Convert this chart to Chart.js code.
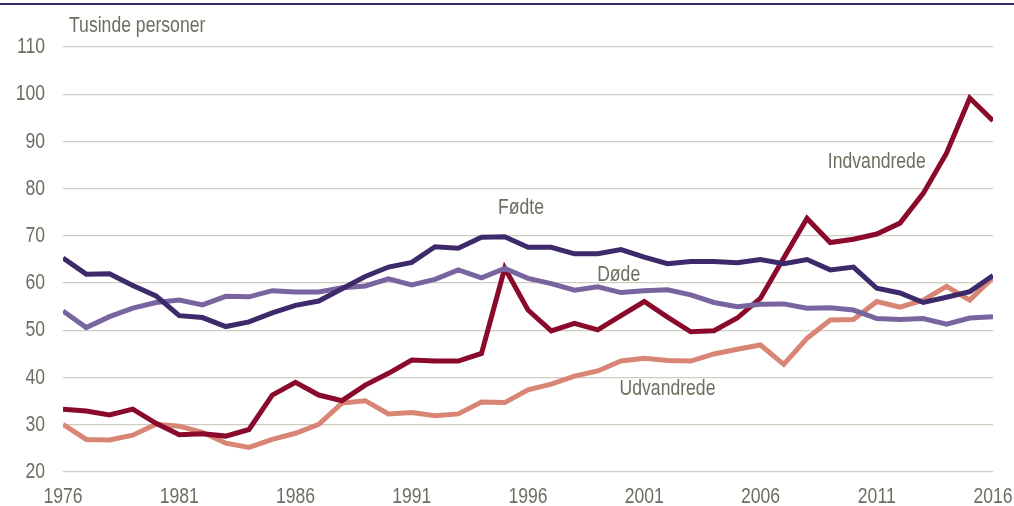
<!DOCTYPE html>
<html>
<head>
<meta charset="utf-8">
<script src="https://cdn.jsdelivr.net/npm/chart.js@4.4.1/dist/chart.umd.min.js"></script>
<style>
  body { margin: 0; background: #fff; }
  #wrap { position: relative; width: 1014px; height: 506px; }
  #topline { position: absolute; left: 0; top: 3px; width: 1014px; height: 2px; background: #3d2a6b; }
</style>
</head>
<body>
<div id="wrap">
  <div id="topline"></div>
  <canvas id="myChart" width="1014" height="506"></canvas>
</div>
<script>
let aar = [];
for (let a = 1976; a <= 2016; a++) aar.push(a);

let fodte = [65.3, 61.9, 62.0, 59.5, 57.3, 53.1, 52.7, 50.8, 51.8, 53.7,
             55.3, 56.2, 58.8, 61.4, 63.4, 64.4, 67.7, 67.4, 69.7, 69.8,
             67.6, 67.6, 66.2, 66.2, 67.1, 65.5, 64.1, 64.6, 64.6, 64.3,
             65.0, 64.1, 65.0, 62.8, 63.4, 58.9, 57.9, 55.9, 57.0, 58.2, 61.6];

let dode = [54.1, 50.6, 52.9, 54.7, 55.9, 56.4, 55.4, 57.2, 57.1, 58.4,
            58.1, 58.1, 59.0, 59.4, 60.9, 59.6, 60.8, 62.8, 61.1, 63.1,
            61.0, 59.9, 58.5, 59.2, 58.0, 58.4, 58.6, 57.5, 55.9, 55.0,
            55.5, 55.6, 54.7, 54.8, 54.3, 52.5, 52.3, 52.5, 51.3, 52.6, 52.9];

let indvandrede = [33.3, 32.9, 32.1, 33.3, 30.3, 27.9, 28.1, 27.6, 29.0, 36.3,
                   39.0, 36.3, 35.1, 38.4, 40.9, 43.7, 43.5, 43.5, 45.1, 63.2,
                   54.3, 49.9, 51.5, 50.1, 53.1, 56.1, 52.8, 49.7, 49.9, 52.6,
                   56.8, 65.3, 73.7, 68.6, 69.3, 70.4, 72.7, 79.0, 87.5, 99.2, 94.4];

let udvandrede = [30.1, 26.9, 26.8, 27.8, 30.1, 29.7, 28.4, 26.1, 25.2, 26.9,
                  28.2, 30.1, 34.6, 35.1, 32.3, 32.6, 31.9, 32.3, 34.8, 34.7,
                  37.4, 38.6, 40.3, 41.4, 43.5, 44.1, 43.6, 43.5, 45.0, 46.0,
                  46.9, 42.8, 48.3, 52.2, 52.3, 56.1, 54.9, 56.4, 59.3, 56.4, 61.2];

let xTicks = [1976, 1981, 1986, 1991, 1996, 2001, 2006, 2011, 2016];
let yTicks = [20, 30, 40, 50, 60, 70, 80, 90, 100, 110];

// etiketter ved linjerne: [tekst, aar, vaerdi]
let etiketter = [
  ['Fødte', 1995.7, 75.9],
  ['Døde', 1999.9, 61.8],
  ['Indvandrede', 2011.0, 85.7],
  ['Udvandrede', 2002.0, 37.6]
];

let tekstFarve = '#6e6d5f';
let skrift = '"Liberation Sans", Arial, sans-serif';
let smal = 0.8; // ingen Arial Narrow her, saa teksten trykkes sammen

function punkter(vaerdier) {
  return vaerdier.map((v, i) => ({ x: aar[i], y: v }));
}

function serie(navn, vaerdier, farve) {
  return {
    label: navn,
    data: punkter(vaerdier),
    borderColor: farve,
    backgroundColor: farve,
    borderWidth: 5,
    pointRadius: 0,
    tension: 0,
    borderJoinStyle: 'miter'
  };
}

function smalTekst(ctx, tekst, x, y) {
  ctx.save();
  ctx.translate(x, y);
  ctx.scale(smal, 1);
  ctx.fillText(tekst, 0, 0);
  ctx.restore();
}

const tekstPlugin = {
  id: 'tekster',
  afterDatasetsDraw(chart) {
    const ctx = chart.ctx;
    const xs = chart.scales.x, ys = chart.scales.y;
    ctx.save();
    ctx.fillStyle = tekstFarve;
    ctx.font = '22px ' + skrift;
    ctx.textBaseline = 'middle';

    // y-akse
    ctx.textAlign = 'right';
    yTicks.forEach(v => smalTekst(ctx, String(v), chart.chartArea.left - 18, ys.getPixelForValue(v)));

    // x-akse
    ctx.textAlign = 'center';
    xTicks.forEach(v => smalTekst(ctx, String(v), xs.getPixelForValue(v), chart.chartArea.bottom + 25));

    // serienavne
    etiketter.forEach(e => {
      smalTekst(ctx, e[0], xs.getPixelForValue(e[1]), ys.getPixelForValue(e[2]));
    });

    ctx.textAlign = 'left';
    smalTekst(ctx, 'Tusinde personer', chart.chartArea.left + 6, 26);
    ctx.restore();
  }
};

var ctx = document.getElementById('myChart');
var myChart = new Chart(ctx, {
  type: 'line',
  data: {
    datasets: [
      serie('Fødte', fodte, '#3d2a6b'),
      serie('Døde', dode, '#7865a0'),
      serie('Indvandrede', indvandrede, '#8a0a2c'),
      serie('Udvandrede', udvandrede, '#d98575')
    ]
  },
  options: {
    responsive: false,
    animation: false,
    layout: { padding: { top: 47, right: 21, left: 0, bottom: 0 } },
    plugins: {
      legend: { display: false },
      tooltip: { enabled: false }
    },
    scales: {
      x: {
        type: 'linear',
        min: 1976,
        max: 2016,
        afterBuildTicks: s => { s.ticks = xTicks.map(v => ({ value: v })); },
        afterFit: s => { s.height = 34; },
        grid: { display: false, drawTicks: false },
        border: { display: false },
        ticks: { display: false }
      },
      y: {
        min: 20,
        max: 110,
        afterBuildTicks: s => { s.ticks = yTicks.map(v => ({ value: v })); },
        afterFit: s => { s.width = 63; },
        grid: { color: '#cfcdc2', lineWidth: 1.3, drawTicks: false },
        border: { display: false },
        ticks: { display: false }
      }
    }
  },
  plugins: [tekstPlugin]
});
</script>
</body>
</html>
